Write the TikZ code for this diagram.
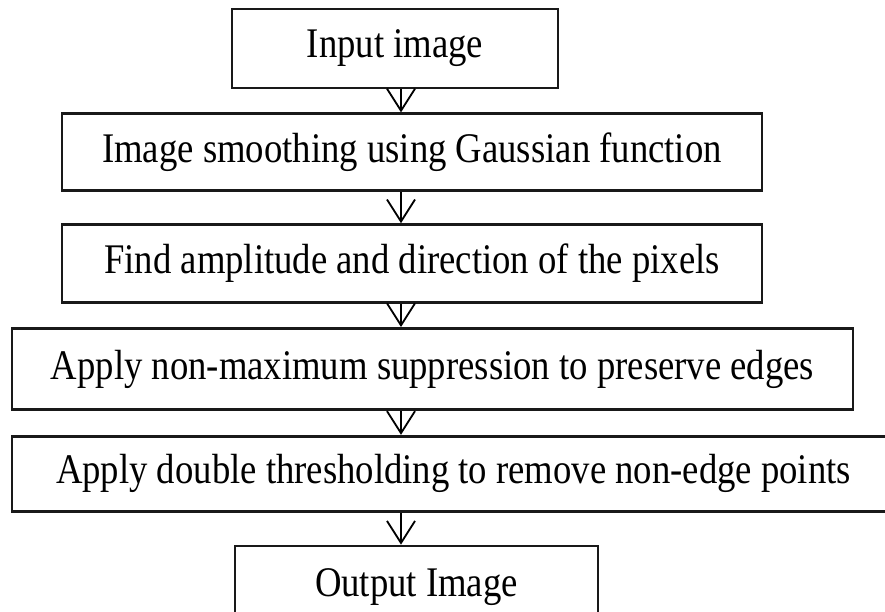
\documentclass[tikz,border=0pt]{standalone}
\usepackage{fontspec}
\setmainfont{Liberation Serif}[FakeStretch=0.87]
\usetikzlibrary{positioning,arrows.meta}

\begin{document}
\begin{tikzpicture}[>={Straight Barb[length=0.55cm,width=0.7cm]},
    stage/.style={draw=black!90, line width=2pt, rectangle, minimum height=1.95cm, font=\fontsize{30}{32}\selectfont, align=center, inner sep=0pt},
    flow/.style={->, line width=1.3pt}]

  \useasboundingbox (0,0) rectangle (22.125,-15.3);
  \clip (0,0) rectangle (22.125,-15.3);

  \node[stage, minimum width=8.15cm, minimum height=1.975cm] (input) at (9.875,-1.2125) {Input image};
  \node[stage, minimum width=17.5cm, minimum height=1.925cm, below=0.575cm of input, xshift=0.425cm] (smooth) {Image smoothing using Gaussian function};
  \node[stage, minimum width=17.5cm, below=0.775cm of smooth] (grad) {Find amplitude and direction of the pixels};
  \node[stage, minimum width=21.025cm, minimum height=2.025cm, below=0.575cm of grad, xshift=0.5125cm] (nms) {Apply non-maximum suppression to preserve edges};
  \node[stage, minimum width=22.075cm, minimum height=1.875cm, below=0.6cm of nms, xshift=0.525cm] (thresh) {Apply double thresholding to remove non-edge points};
  \node[stage, minimum width=9.075cm, minimum height=2.075cm, below=0.8cm of thresh, xshift=-0.925cm] (output) {Output Image};

  \draw[flow] (input.south -| 10.025,0) -- (smooth.north -| 10.025,0);
  \draw[flow] (smooth.south -| 10.025,0) -- (grad.north -| 10.025,0);
  \draw[flow] (grad.south -| 10.025,0) -- (nms.north -| 10.025,0);
  \draw[flow] (nms.south -| 10.025,0) -- (thresh.north -| 10.025,0);
  \draw[flow] (thresh.south -| 10.025,0) -- (output.north -| 10.025,0);
\end{tikzpicture}
\end{document}
